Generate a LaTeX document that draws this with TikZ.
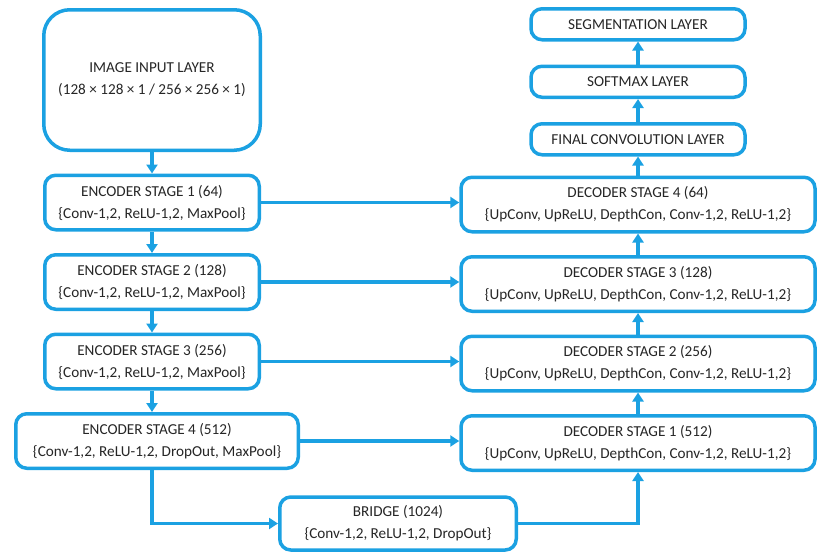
\documentclass[tikz,border=0pt]{standalone}
\usepackage{fontspec}
\setmainfont{Carlito}
\usetikzlibrary{
  arrows.meta,
  positioning,
}
\definecolor{unetblue}{RGB}{27, 161, 226}
\tikzstyle{stage} = [
  rectangle,
  draw=unetblue,
  line width=3.5pt,
  rounded corners=11pt,
  fill=white,
  align=center,
  text=black!85,
  font=\fontsize{15.2}{22}\selectfont,
  inner sep=2pt,
]
\tikzstyle{arrow} = [
  -{Triangle[width=11pt,length=9pt]},
  line width=3.5pt,
  unetblue,
]

\begin{document}
\begin{tikzpicture}[node distance=21.5pt and 0pt, x=1pt, y=1pt]
      \useasboundingbox (0,0) rectangle (818,-554);

      % encoder side
      \node[stage,rounded corners=26pt,minimum width=216.5pt,minimum height=140.5pt] (input) at (152,-80) {IMAGE INPUT LAYER\\(128 × 128 × 1 / 256 × 256 × 1)};
      \node[stage,minimum width=214.5pt,minimum height=54.5pt] (enc1) [below=of input] {ENCODER STAGE 1 (64)\\\{Conv-1,2, ReLU-1,2, MaxPool\}};
      \node[stage,minimum width=214.5pt,minimum height=54.5pt] (enc2) [below=of enc1] {ENCODER STAGE 2 (128)\\\{Conv-1,2, ReLU-1,2, MaxPool\}};
      \node[stage,minimum width=214.5pt,minimum height=54.5pt] (enc3) [below=of enc2] {ENCODER STAGE 3 (256)\\\{Conv-1,2, ReLU-1,2, MaxPool\}};
      \node[stage,minimum width=282.5pt,minimum height=54.5pt,xshift=5pt] (enc4) [below=of enc3] {ENCODER STAGE 4 (512)\\\{Conv-1,2, ReLU-1,2, DropOut, MaxPool\}};

      \node[stage,minimum width=236.5pt,minimum height=53pt] (bridge) at (398,-523.5) {BRIDGE (1024)\\\{Conv-1,2, ReLU-1,2, DropOut\}};

      % decoder side
      \node[stage,minimum width=354pt,minimum height=54.5pt] (dec1) at (638,-443) {DECODER STAGE 1 (512)\\\{UpConv, UpReLU, DepthCon, Conv-1,2, ReLU-1,2\}};
      \node[stage,minimum width=354pt,minimum height=54.5pt] (dec2) [above=of dec1] {DECODER STAGE 2 (256)\\\{UpConv, UpReLU, DepthCon, Conv-1,2, ReLU-1,2\}};
      \node[stage,minimum width=354pt,minimum height=54.5pt] (dec3) [above=of dec2] {DECODER STAGE 3 (128)\\\{UpConv, UpReLU, DepthCon, Conv-1,2, ReLU-1,2\}};
      \node[stage,minimum width=354pt,minimum height=54.5pt] (dec4) [above=of dec3] {DECODER STAGE 4 (64)\\\{UpConv, UpReLU, DepthCon, Conv-1,2, ReLU-1,2\}};

      \node[stage,minimum width=214pt,minimum height=31pt] (final) [above=19pt of dec4] {FINAL CONVOLUTION LAYER};
      \node[stage,minimum width=214pt,minimum height=31pt] (softmax) [above=23pt of final] {SOFTMAX LAYER};
      \node[stage,minimum width=214pt,minimum height=31pt] (seg) [above=23pt of softmax] {SEGMENTATION LAYER};

      % down the encoder
      \draw[arrow] (input.south) -- (enc1.north);
      \draw[arrow] (enc1.south) -- (enc2.north);
      \draw[arrow] (enc2.south) -- (enc3.north);
      \draw[arrow] (enc3.south) -- (enc3.south |- enc4.north);
      \draw[arrow] (enc3.south |- enc4.south) |- (bridge.west);

      % skip connections
      \draw[arrow] (enc1.east) -- (enc1.east -| dec4.west);
      \draw[arrow] (enc2.east) -- (enc2.east -| dec3.west);
      \draw[arrow] (enc3.east) -- (enc3.east -| dec2.west);
      \draw[arrow] (enc4.east) -- (enc4.east -| dec1.west);

      % up the decoder
      \draw[arrow] (bridge.east) -| (dec1.south);
      \draw[arrow] (dec1.north) -- (dec2.south);
      \draw[arrow] (dec2.north) -- (dec3.south);
      \draw[arrow] (dec3.north) -- (dec4.south);
      \draw[arrow] (dec4.north) -- (final.south);
      \draw[arrow] (final.north) -- (softmax.south);
      \draw[arrow] (softmax.north) -- (seg.south);

    \end{tikzpicture}
\end{document}
